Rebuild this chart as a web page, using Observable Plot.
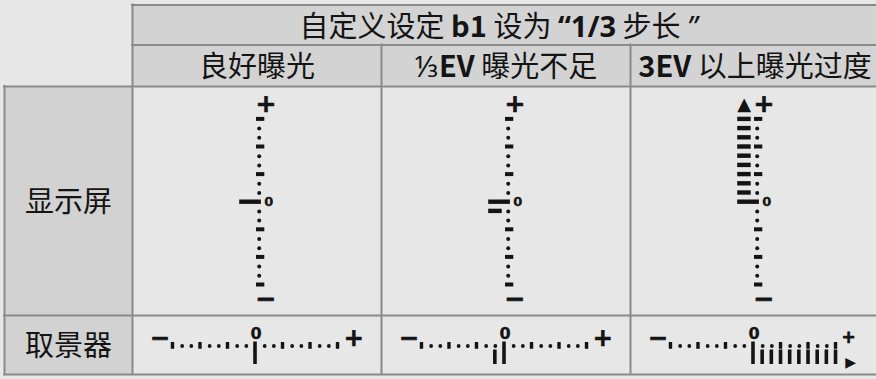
<!DOCTYPE html>
<html><head><meta charset="utf-8">
<script src="https://cdn.jsdelivr.net/npm/d3@7"></script>
<script src="https://cdn.jsdelivr.net/npm/@observablehq/plot@0.6"></script>
<style>html,body{margin:0;padding:0;background:#e7e7e7;} svg{display:block}</style>
</head><body><div id="chart"></div>
<script>
// ---------- data ----------
const titleText = "自定义设定 b1 设为 “1/3 步长 ”";
const scenarios = ["良好曝光", "⅓EV 曝光不足", "3EV 以上曝光过度"];
const rowLabels = ["显示屏", "取景器"];
// positions on the exposure indicator, in 1/3 EV steps
const scaleSteps = [-9, -8, -7, -6, -5, -4, -3, -2, -1, 0, 1, 2, 3, 4, 5, 6, 7, 8, 9];
// indicator bars lit for each scenario (1/3 EV steps)
const indicatorSteps = [[0], [0, -1], [0, 1, 2, 3, 4, 5, 6, 7, 8, 9]];
const beyondRange = [false, false, true];
const endLabels = ["−", "+"];
const zeroLabel = "0";
const overSymbolDisplay = "▲";
const overSymbolFinder = "▶";

// ---------- layout ----------
const W = 876, H = 379;
const colEdges = [132, 381, 630, 879];
const tableLeft = 4;
const headRows = [4.5, 44.5, 86];
const bodyRows = [86, 315, 374];
const lineColor = "#8a8a8a", headFill = "#d3d3d3", labelFill = "#d2d2d2", ink = "#141414";
const cjk = "'Noto Sans CJK SC', 'Noto Sans', sans-serif";
const sym = "'DejaVu Sans', sans-serif";
const stepPx = 9.2;
const colCenter = i => (colEdges[i] + colEdges[i + 1]) / 2;

const cols = scenarios.map((name, i) => ({i, name, cx: colCenter(i), over: beyondRange[i], ind: indicatorSteps[i]}));
const ticks = cols.flatMap(c => scaleSteps.map(s => ({c, s, major: s % 3 === 0})));
const lit = cols.flatMap(c => c.ind.map(s => ({c, s})));

// display (vertical) gauge
const dZeroY = 201.7;
const dX = c => c.cx + 2.2;
const dY = s => dZeroY - s * stepPx;
// viewfinder (horizontal) gauge
const vAxisY = 345.5;
const vX = (c, s) => c.cx - 1.5 + s * 9.17;

const cells = [
  {x1: colEdges[0], x2: W, y1: headRows[0], y2: headRows[1], fill: headFill},
  ...cols.map(c => ({x1: colEdges[c.i], x2: colEdges[c.i + 1], y1: headRows[1], y2: headRows[2], fill: headFill})),
  {x1: tableLeft, x2: colEdges[0], y1: bodyRows[0], y2: bodyRows[1], fill: labelFill},
  {x1: tableLeft, x2: colEdges[0], y1: bodyRows[1], y2: bodyRows[2], fill: labelFill}
];
const hLines = [
  {y: headRows[0], x1: colEdges[0], x2: W},
  {y: headRows[1], x1: colEdges[0], x2: W},
  {y: bodyRows[0], x1: tableLeft, x2: W},
  {y: bodyRows[1], x1: tableLeft, x2: W},
  {y: bodyRows[2], x1: tableLeft, x2: W}
];
const vLines = [
  {x: tableLeft, y1: bodyRows[0], y2: bodyRows[2]},
  {x: colEdges[0], y1: headRows[0], y2: bodyRows[2]},
  {x: colEdges[1], y1: headRows[1], y2: bodyRows[2]},
  {x: colEdges[2], y1: headRows[1], y2: bodyRows[2]}
];
const rowLabelData = rowLabels.map((t, i) => ({t, y: (bodyRows[i] + bodyRows[i + 1]) / 2}));
const symStyle = {fontFamily: sym, fontWeight: "bold", fill: ink, stroke: ink, strokeWidth: 0.7};

const chart = Plot.plot({
  width: W, height: H, margin: 0,
  x: {type: "linear", domain: [0, W], range: [0, W], axis: null},
  y: {type: "linear", domain: [0, H], range: [0, H], axis: null},
  style: {background: "#e7e7e7", overflow: "visible"},
  marks: [
    Plot.rect(cells, {x1: "x1", x2: "x2", y1: "y1", y2: "y2", fill: d => d.fill}),
    Plot.ruleY(hLines, {y: "y", x1: "x1", x2: "x2", stroke: lineColor, strokeWidth: 2, strokeLinecap: "square"}),
    Plot.ruleX(vLines, {x: "x", y1: "y1", y2: "y2", stroke: lineColor, strokeWidth: 2, strokeLinecap: "square"}),
    // headers
    Plot.text([titleText], {x: (colEdges[0] + W) / 2 - 6, y: (headRows[0] + headRows[1]) / 2 + 2.5, text: d => d, fontFamily: cjk, fontSize: 29, fill: ink}),
    Plot.text(cols, {x: "cx", y: (headRows[1] + headRows[2]) / 2 + 1.5, text: "name", fontFamily: cjk, fontSize: 29, fill: ink}),
    Plot.text(rowLabelData, {x: (tableLeft + colEdges[0]) / 2, y: d => d.y + 1.5, text: "t", fontFamily: cjk, fontSize: 29, fill: ink}),

    // ---- display gauge (vertical) ----
    Plot.dot(ticks.filter(d => !d.major), {x: d => dX(d.c), y: d => dY(d.s), r: 2, fill: ink, stroke: null}),
    Plot.rect(ticks.filter(d => d.major && d.s !== 0), {x1: d => dX(d.c) - 2.7, x2: d => dX(d.c) + 5.6, y1: d => dY(d.s) - 2, y2: d => dY(d.s) + 2, fill: ink}),
    Plot.rect(lit, {x1: d => dX(d.c) - 19.5, x2: d => dX(d.c) + (d.s === 0 ? 2.2 : -6), y1: d => dY(d.s) - 2.2, y2: d => dY(d.s) + 2.2, fill: ink}),
    Plot.text(cols, {x: c => dX(c) + 9.5, y: dZeroY, text: () => zeroLabel, ...symStyle, strokeWidth: 0.3, fontSize: 13}),
    Plot.text(cols, {x: c => dX(c) + 6.7, y: 103.3, text: () => endLabels[1], ...symStyle, fontSize: 25}),
    Plot.text(cols, {x: c => dX(c) + 6.7, y: 298.3, text: () => endLabels[0], ...symStyle, fontSize: 25}),
    Plot.text(cols.filter(c => c.over), {x: c => dX(c) - 13, y: 103.3, text: () => overSymbolDisplay, fontFamily: sym, fontSize: 18, fill: ink}),

    // ---- viewfinder gauge (horizontal) ----
    Plot.dot(ticks.filter(d => !d.major), {x: d => vX(d.c, d.s), y: vAxisY, r: 1.9, fill: ink, stroke: null}),
    Plot.rect(ticks.filter(d => d.major && d.s !== 0), {x1: d => vX(d.c, d.s) - 1.7, x2: d => vX(d.c, d.s) + 1.7, y1: vAxisY - 3.5, y2: vAxisY + 3.3, fill: ink}),
    Plot.rect(lit, {x1: d => vX(d.c, d.s) - 1.8, x2: d => vX(d.c, d.s) + 1.8, y1: d => d.s === 0 ? 341.5 : 349.5, y2: 364, fill: ink}),
    Plot.text(cols, {x: c => vX(c, 0) + 0.5, y: 333, text: () => zeroLabel, ...symStyle, strokeWidth: 0.3, fontSize: 16}),
    Plot.text(cols, {x: c => vX(c, 0) - 95.8, y: 338.3, text: () => endLabels[0], ...symStyle, fontSize: 24}),
    Plot.text(cols, {x: c => vX(c, 0) + (c.over ? 95 : 98.3), y: c => c.over ? 336.7 : 338.3, text: () => endLabels[1], ...symStyle, fontSize: c => c.over ? 17 : 24}),
    Plot.text(cols.filter(c => c.over), {x: c => vX(c, 0) + 97.2, y: 361.7, text: () => overSymbolFinder, fontFamily: sym, fontSize: 14, fill: ink})
  ]
});

// bold runs for Latin letters / digits in the header texts; narrow Latin quotes
const boldTargets = new Set([titleText, ...scenarios]);
d3.select(chart).selectAll("text").each(function () {
  const t = this.textContent;
  if (!boldTargets.has(t)) return;
  const sel = d3.select(this);
  sel.text(null);
  t.split(/([A-Za-z0-9“”\/]+)/).filter(s => s.length).forEach(part => {
    const latin = /^[A-Za-z0-9“”\/]+$/.test(part);
    const ts = sel.append("tspan").text(part);
    if (latin && part !== "”") ts.attr("font-weight", "bold");
    if (/[“”]/.test(part)) ts.attr("font-family", "'Noto Sans', sans-serif");
    if (part === "”") ts.attr("font-style", "italic");
  });
});

document.getElementById("chart").append(chart);
</script>
</body></html>
